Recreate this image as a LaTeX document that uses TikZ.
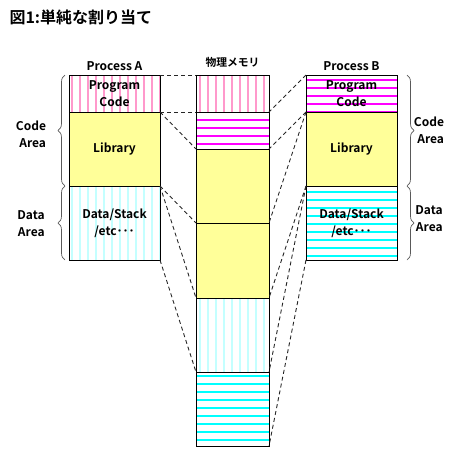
\documentclass[tikz,border=0pt]{standalone}
\usepackage{fontspec}
\setmainfont{Noto Sans CJK JP}[BoldFont={Noto Sans CJK JP Bold}]
\usetikzlibrary{positioning, decorations.pathreplacing, patterns.meta}

\definecolor{stripePink}{RGB}{255,153,204}
\definecolor{stripeMagenta}{RGB}{255,0,255}
\definecolor{stripeCyan}{RGB}{0,255,255}
\definecolor{stripeLightCyan}{RGB}{196,255,255}
\definecolor{libYellow}{RGB}{255,255,153}

\tikzset{
  block/.style={draw=black, line width=1pt, inner sep=0pt, outer sep=0pt},
  procblock/.style={block, minimum width=91pt},
  memblock/.style={block, minimum width=73pt},
  vstripe/.style={pattern={Lines[angle=90, distance=8pt, line width=2pt]}, pattern color=#1},
  hstripe/.style={pattern={Lines[angle=0, distance=8pt, line width=2pt]}, pattern color=#1},
  blocktxt/.style={inner sep=0pt, align=center, font=\bfseries\fontsize{12}{17}\selectfont},
  mapline/.style={draw=black!85, line width=0.9pt, dash pattern=on 4pt off 3pt},
  areabrace/.style={draw=black!65, line width=0.7pt, decorate, decoration={brace, amplitude=7pt}},
  lbl/.style={font=\bfseries\fontsize{12}{17}\selectfont, align=right},
}

\begin{document}
\begin{tikzpicture}[x=1pt, y=-1pt]
\useasboundingbox (0,0) rectangle (467,464);

% --- Title ---
\node[anchor=west, font=\bfseries\fontsize{16}{18}\selectfont] (title) at (6,17) {図1:単純な割り当て};

% --- Column headings ---
\node[lbl] (procA) at (114.5,66.5) {Process A};
\node[lbl, font=\bfseries\fontsize{10.8}{13}\selectfont] (physMem) at (232.5,62) {物理メモリ};
\node[lbl] (procB) at (351.5,66.5) {Process B};

% --- Process A ---
\node[procblock, minimum height=37pt, vstripe=stripePink] (codeA) at (114.5,93.5) {};
\node[procblock, minimum height=74pt, fill=libYellow, below=0pt of codeA] (libA) {};
\node[procblock, minimum height=74pt, vstripe=stripeLightCyan, below=0pt of libA] (dataA) {};

% --- Physical memory ---
\node[memblock, minimum height=37pt, vstripe=stripePink] (mem1) at (232.5,93.5) {};
\node[memblock, minimum height=37pt, hstripe=stripeMagenta, below=0pt of mem1] (mem2) {};
\node[memblock, minimum height=74pt, fill=libYellow, below=0pt of mem2] (mem3) {};
\node[memblock, minimum height=75pt, fill=libYellow, below=0pt of mem3] (mem4) {};
\node[memblock, minimum height=74pt, vstripe=stripeLightCyan, below=0pt of mem4] (mem5) {};
\node[memblock, minimum height=74pt, hstripe=stripeCyan, below=0pt of mem5] (mem6) {};

% --- Process B ---
\node[procblock, minimum height=37pt, hstripe=stripeMagenta] (codeB) at (351.5,93.5) {};
\node[procblock, minimum height=74pt, fill=libYellow, below=0pt of codeB] (libB) {};
\node[procblock, minimum height=74pt, hstripe=stripeCyan, below=0pt of libB] (dataB) {};

% --- Block texts ---
\node[blocktxt] (codeAtxt) at (codeA) {Program\\Code};
\node[blocktxt] (libAtxt) at (libA) {Library};
\node[blocktxt] (dataAtxt) at (dataA) {Data/Stack\\/etc･･･};
\node[blocktxt] (codeBtxt) at (codeB) {Program\\Code};
\node[blocktxt] (libBtxt) at (libB) {Library};
\node[blocktxt] (dataBtxt) at (dataB) {Data/Stack\\/etc･･･};

% --- Mapping A -> memory ---
\draw[mapline] (codeA.north east) -- (mem1.north west);
\draw[mapline] (codeA.south east) -- (mem1.south west);
\draw[mapline] (libA.north east) -- (mem3.north west);
\draw[mapline] (libA.south east) -- (mem3.south west);
\draw[mapline] (dataA.north east) -- (mem5.north west);
\draw[mapline] (dataA.south east) -- (mem5.south west);

% --- Mapping B -> memory ---
\draw[mapline] (codeB.north west) -- (mem2.north east);
\draw[mapline] (codeB.south west) -- (mem2.south east);
\draw[mapline] (libB.north west) -- (mem4.north east);
\draw[mapline] (libB.south west) -- (mem4.south east);
\draw[mapline] (dataB.north west) -- (mem6.north east);
\draw[mapline] (dataB.south west) -- (mem6.south east);

% --- Area braces ---
\draw[areabrace] ([xshift=-4pt]libA.south west) -- ([xshift=-4pt]codeA.north west);
\draw[areabrace] ([xshift=-4pt]dataA.south west) -- ([xshift=-4pt]dataA.north west);
\draw[areabrace] ([xshift=10pt]codeB.north east) -- ([xshift=10pt]libB.south east);
\draw[areabrace] ([xshift=10pt]dataB.north east) -- ([xshift=10pt]dataB.south east);

\node[lbl] (codeAreaA) at (31,134.5) {Code\\Area};
\node[lbl] (dataAreaA) at (31,223.5) {Data\\Area};
\node[lbl] (codeAreaB) at (429,130.5) {Code\\Area};
\node[lbl] (dataAreaB) at (429,218.5) {Data\\Area};

\end{tikzpicture}
\end{document}
